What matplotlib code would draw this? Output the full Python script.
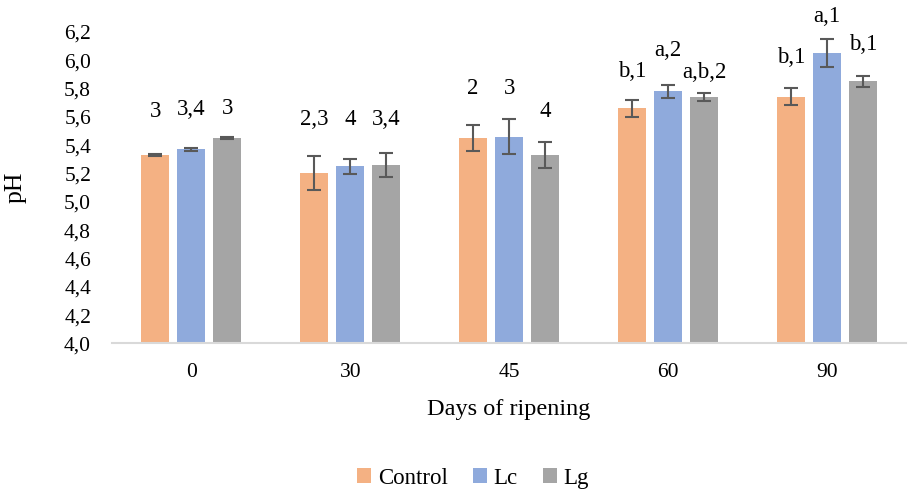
import numpy as np
import matplotlib.pyplot as plt

plt.rcParams['font.family'] = ['Liberation Serif', 'DejaVu Serif']

# pH during ripening, mean and error per treatment
days = ['0', '30', '45', '60', '90']
groups = ['Control', 'Lc', 'Lg']
control = [5.33, 5.20, 5.45, 5.66, 5.74]
lc = [5.37, 5.25, 5.46, 5.78, 6.05]
lg = [5.45, 5.26, 5.33, 5.74, 5.85]
control_err = [0.01, 0.12, 0.09, 0.06, 0.06]
lc_err = [0.01, 0.055, 0.125, 0.045, 0.10]
lg_err = [0.01, 0.085, 0.095, 0.025, 0.04]

# significance letters and their heights (pH units)
control_sig = ['3', '2,3', '2', 'b,1', 'b,1']
lc_sig = ['3,4', '4', '3', 'a,2', 'a,1']
lg_sig = ['3', '3,4', '4', 'a,b,2', 'b,1']
control_sig_y = [5.64, 5.58, 5.80, 5.92, 6.02]
lc_sig_y = [5.65, 5.58, 5.80, 6.07, 6.31]
lg_sig_y = [5.66, 5.58, 5.64, 5.91, 6.11]

colors = ['#F4B183', '#8FAADC', '#A5A5A5']

fig = plt.figure(figsize=(9.1, 4.97), dpi=100)
ax = fig.add_axes([0.123, 0.309, 0.873, 0.627])

x = np.arange(len(days))
step = 0.227
width = 0.176
series = [(control, control_err, control_sig, control_sig_y),
          (lc, lc_err, lc_sig, lc_sig_y),
          (lg, lg_err, lg_sig, lg_sig_y)]

for i, (vals, errs, sig, sig_y) in enumerate(series):
    pos = x + (i - 1) * step
    ax.bar(pos, np.array(vals) - 4.0, width, bottom=4.0, color=colors[i],
           label=groups[i], zorder=2)
    ax.errorbar(pos, vals, yerr=errs, fmt='none', ecolor='#595959',
                elinewidth=1.5, capsize=5, capthick=1.5, zorder=3)
    for px, t, ty in zip(pos, sig, sig_y):
        ax.text(px, ty, t, ha='center', va='center', fontsize=16.5)

ax.set_xlim(-0.5, len(days) - 0.5)
ax.set_ylim(4.0, 6.2)
yt = np.arange(4.0, 6.21, 0.2)
ax.set_yticks(yt)
ax.set_yticklabels([f'{v:.1f}'.replace('.', ',') for v in yt])
ax.set_xticks(x)
ax.set_xticklabels(days)
ax.tick_params(axis='both', length=0, labelsize=15.5)
ax.tick_params(axis='y', pad=15)
ax.tick_params(axis='x', pad=14)

for s in ['top', 'right', 'left']:
    ax.spines[s].set_visible(False)
ax.spines['bottom'].set_color('#D9D9D9')
ax.spines['bottom'].set_linewidth(1.5)

ax.set_ylabel('pH', fontsize=18.5)
ax.yaxis.set_label_coords(-0.107, 0.5)
ax.set_xlabel('Days of ripening', fontsize=17.5, labelpad=12)

fig.legend(loc='lower center', bbox_to_anchor=(0.52, -0.025), ncol=3, frameon=False,
           fontsize=16.5, handlelength=0.6, handleheight=0.6, handletextpad=0.3,
           columnspacing=1.1)

fig.savefig('out.png', dpi=100)
